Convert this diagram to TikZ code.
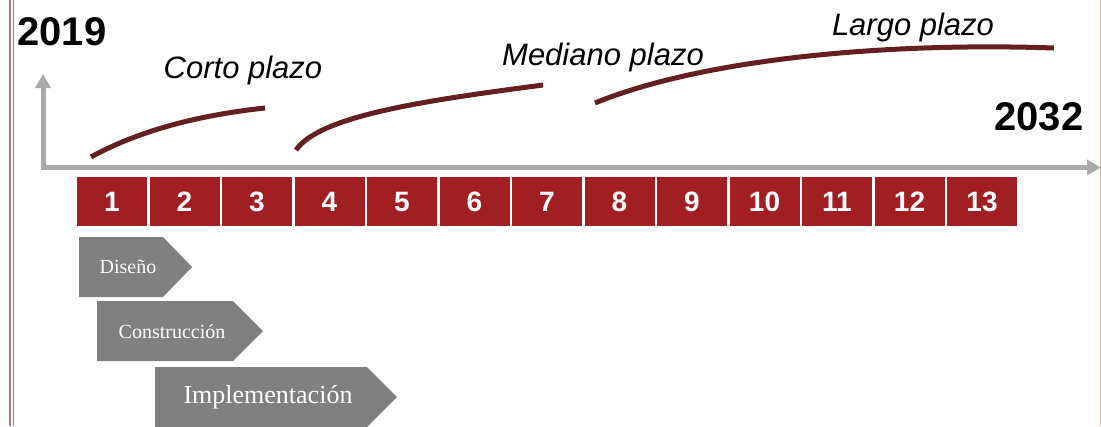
\documentclass[tikz,border=0pt]{standalone}
\usepackage{fontspec}
\setmainfont{Liberation Serif}
\setsansfont{Liberation Sans}
\usetikzlibrary{arrows.meta}

\definecolor{boxred}{RGB}{161,31,34}
\definecolor{curvebrown}{RGB}{100,32,32}
\definecolor{axisgray}{RGB}{170,170,170}
\definecolor{phasegray}{RGB}{128,128,128}
\definecolor{framepink}{RGB}{180,115,120}

\tikzset{
	yearbox/.style={fill=boxred, minimum width=70pt, minimum height=49pt, inner sep=0pt,
		text height=20pt, text depth=0pt,
		text=white, font=\sffamily\bfseries\fontsize{28}{28}\selectfont},
	yeartext/.style={font=\sffamily\bfseries\fontsize{40}{40}\selectfont, inner sep=0pt, anchor=base},
	termtext/.style={font=\sffamily\itshape\fontsize{31}{31}\selectfont, inner sep=0pt, anchor=base},
	phasetext/.style={text=white, inner sep=0pt},
	termcurve/.style={curvebrown, line width=5pt},
	axisline/.style={axisgray, line width=5pt, line join=miter}
}

\begin{document}
\begin{tikzpicture}[x=1pt,y=-1pt]
					\useasboundingbox (0,0) rectangle (1101,426);
					
					% marco
					\draw[framepink, line width=1.5pt] (10,0) -- (10,426);
					\draw[framepink, line width=1.5pt] (13.5,0) -- (13.5,426);
					\draw[framepink!50, line width=1pt] (1100.5,0) -- (1100.5,426);
					
					% ejes
					\draw[axisline, {Triangle[width=15pt,length=14pt]}-{Triangle[width=15pt,length=14pt]}]
						(43,74) -- (43,167.5) -- (1101,167.5);
					
					\node[yeartext] (inicio) at (62,45) {2019};
					\node[yeartext] (fin) at (1039,130) {2032};
					
					% plazos
					\draw[termcurve] (91,157) .. controls (140,130) and (200,115) .. (265,108);
					\draw[termcurve] (296,150) .. controls (320,115) and (430,100) .. (543,85);
					\draw[termcurve] (595,103) .. controls (700,60) and (880,42) .. (1054,48);
					\node[termtext] (corto) at (243,78) {Corto plazo};
					\node[termtext] (mediano) at (603,65) {Mediano plazo};
					\node[termtext] (largo) at (913,35) {Largo plazo};
					
					% años
					\foreach \i in {1,...,13}
						\node[yearbox] (y\i) at ({112+(\i-1)*72.5},201.5) {\i};
					
					% fases
					\fill[phasegray] (79,237) -- (163,237) -- (192,267) -- (163,297) -- (79,297) -- cycle;
					\node[phasetext, font=\fontsize{20}{20}\selectfont] (diseno) at (128,267) {Diseño};
					\fill[phasegray] (97,301) -- (233,301) -- (263,331) -- (233,361) -- (97,361) -- cycle;
					\node[phasetext, font=\fontsize{20}{20}\selectfont] (construccion) at (172,332) {Construcción};
					\fill[phasegray] (155,367) -- (367,367) -- (397,397) -- (367,427) -- (155,427) -- cycle;
					\node[phasetext, font=\fontsize{26}{26}\selectfont] (implementacion) at (268,397) {Implementación};
\end{tikzpicture}
\end{document}
